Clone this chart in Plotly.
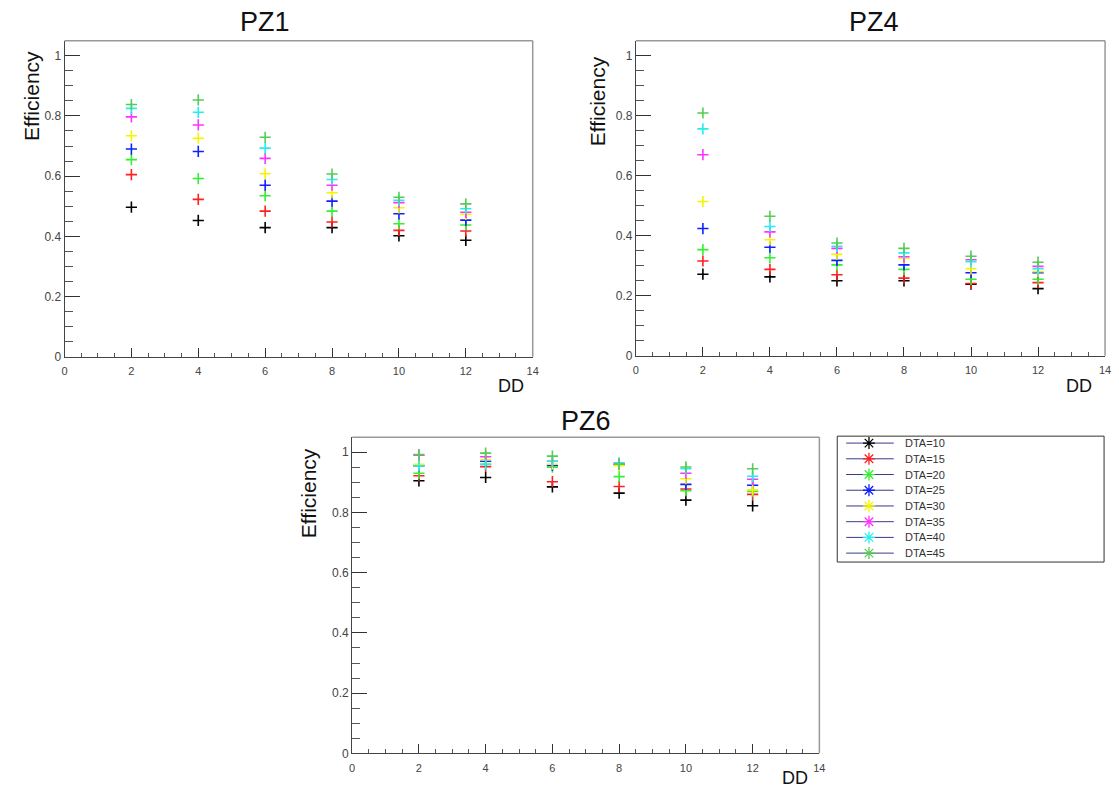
import plotly.graph_objects as go

# Drift distance (DD) values, shared by all panels
dd = [2, 4, 6, 8, 10, 12]

# Series names and ROOT-style colours (kBlack, kRed, kGreen, kBlue, kYellow, kMagenta, kCyan, 8)
dta_labels = ["DTA=10", "DTA=15", "DTA=20", "DTA=25", "DTA=30", "DTA=35", "DTA=40", "DTA=45"]
dta_colors = ["#000000", "#ff2020", "#33ee33", "#1020ff", "#f5f500", "#ff33ff", "#22f0f0", "#55cc55"]

# Efficiency per DTA (rows) at each DD (columns)
pz1_eff = [
    [0.497, 0.453, 0.429, 0.429, 0.402, 0.387],
    [0.605, 0.523, 0.484, 0.448, 0.420, 0.418],
    [0.655, 0.592, 0.535, 0.484, 0.442, 0.438],
    [0.690, 0.682, 0.570, 0.517, 0.475, 0.454],
    [0.734, 0.726, 0.608, 0.545, 0.495, 0.473],
    [0.797, 0.770, 0.659, 0.570, 0.512, 0.480],
    [0.825, 0.812, 0.693, 0.589, 0.520, 0.492],
    [0.838, 0.853, 0.729, 0.607, 0.530, 0.508],
]
pz4_eff = [
    [0.272, 0.263, 0.250, 0.250, 0.239, 0.224],
    [0.316, 0.288, 0.270, 0.259, 0.241, 0.244],
    [0.354, 0.327, 0.303, 0.288, 0.255, 0.255],
    [0.424, 0.362, 0.318, 0.303, 0.277, 0.277],
    [0.514, 0.387, 0.338, 0.325, 0.290, 0.280],
    [0.670, 0.413, 0.358, 0.330, 0.320, 0.298],
    [0.756, 0.431, 0.365, 0.343, 0.314, 0.290],
    [0.809, 0.465, 0.376, 0.358, 0.332, 0.312],
]
pz6_eff = [
    [0.905, 0.916, 0.885, 0.864, 0.841, 0.822],
    [0.922, 0.952, 0.902, 0.886, 0.878, 0.860],
    [0.930, 0.960, 0.950, 0.919, 0.872, 0.870],
    [0.955, 0.970, 0.956, 0.959, 0.893, 0.890],
    [0.960, 0.975, 0.960, 0.955, 0.912, 0.875],
    [0.990, 0.985, 0.970, 0.962, 0.930, 0.910],
    [0.955, 0.960, 0.970, 0.965, 0.945, 0.920],
    [0.992, 0.997, 0.987, 0.960, 0.951, 0.945],
]

panel_titles = ["PZ1", "PZ4", "PZ6"]

W, H = 1119, 800


def px_x(p):
    return p / W


def px_y(p):
    return 1 - p / H


# Pad frames in pixels: (left, right, top, bottom)
frames = [(62, 534, 41, 360), (638, 1111, 41, 359), (352, 823, 441, 760)]
title_pos = [(264, 22), (878, 22), (588, 425)]
ytitle_pos = [(28, 97), (599, 102), (308, 498)]
xtitle_pos = [(512, 389), (1085, 389), (798, 785)]

# Legend box in pixels: (left, right, top, bottom)
leg_l, leg_r, leg_t, leg_b = 841, 1110, 440, 567

fig = go.Figure()
font_family = "Liberation Sans, Arial, sans-serif"

for k, eff in enumerate([pz1_eff, pz4_eff, pz6_eff]):
    xa = "x" if k == 0 else f"x{k + 1}"
    ya = "y" if k == 0 else f"y{k + 1}"
    for i, row in enumerate(eff):
        fig.add_trace(go.Scatter(
            x=dd, y=row, mode="markers", xaxis=xa, yaxis=ya,
            marker=dict(symbol="cross-thin", size=8, color=dta_colors[i],
                        line=dict(color=dta_colors[i], width=1.6)),
            showlegend=False, hoverinfo="x+y", name=dta_labels[i],
        ))

# Legend drawn on its own hidden axes spanning the legend box (pixel units)
n = len(dta_labels)
row_y = [447 + i * (558 - 447) / (n - 1) for i in range(n)]
for i, lab in enumerate(dta_labels):
    fig.add_trace(go.Scatter(
        x=[850, 898], y=[row_y[i], row_y[i]], mode="lines", xaxis="x4", yaxis="y4",
        line=dict(color="#3a3a8a", width=1), showlegend=False, hoverinfo="skip",
    ))
    fig.add_trace(go.Scatter(
        x=[873], y=[row_y[i]], mode="markers", xaxis="x4", yaxis="y4",
        marker=dict(symbol="asterisk-open", size=10, color=dta_colors[i],
                    line=dict(color=dta_colors[i], width=1.3)),
        showlegend=False, name=lab, hoverinfo="name",
    ))

axis_font = dict(family=font_family, size=11, color="#444")
layout = dict(
    width=W, height=H, margin=dict(l=0, r=0, t=0, b=0),
    paper_bgcolor="white", plot_bgcolor="white",
    showlegend=False,
)
shapes = []
annotations = []
for k, (l, r, t, b) in enumerate(frames):
    sfx = "" if k == 0 else str(k + 1)
    layout["xaxis" + sfx] = dict(
        domain=[px_x(l), px_x(r)], range=[0, 14], anchor="y" + sfx,
        dtick=2, tick0=0, ticks="inside", ticklen=9, tickwidth=1, tickcolor="#333",
        minor=dict(ticks="inside", dtick=0.5, ticklen=4, tickcolor="#555", tickwidth=1),
        showline=True, linecolor="#444", linewidth=1, showgrid=False, zeroline=False,
        tickfont=axis_font, ticklabelstandoff=4,
    )
    layout["yaxis" + sfx] = dict(
        domain=[px_y(b), px_y(t)], range=[0, 1.05], anchor="x" + sfx,
        dtick=0.2, tick0=0, ticks="inside", ticklen=15, tickwidth=1, tickcolor="#333",
        minor=dict(ticks="inside", dtick=0.05, ticklen=8, tickcolor="#555", tickwidth=1),
        showline=True, linecolor="#444", linewidth=1, showgrid=False, zeroline=False,
        tickfont=dict(family=font_family, size=12, color="#444"),
    )
    # top and right frame edges
    shapes.append(dict(type="line", xref="paper", yref="paper",
                       x0=px_x(l), x1=px_x(r), y0=px_y(t), y1=px_y(t),
                       line=dict(color="#999", width=1.5)))
    shapes.append(dict(type="line", xref="paper", yref="paper",
                       x0=px_x(r), x1=px_x(r), y0=px_y(t), y1=px_y(b),
                       line=dict(color="#999", width=1.5)))
    tx, ty = title_pos[k]
    annotations.append(dict(text=panel_titles[k], x=px_x(tx), y=px_y(ty), xref="paper", yref="paper",
                            showarrow=False, xanchor="center", yanchor="middle",
                            font=dict(family=font_family, size=27, color="#111")))
    yx, yy = ytitle_pos[k]
    annotations.append(dict(text="Efficiency", x=px_x(yx), y=px_y(yy), xref="paper", yref="paper",
                            showarrow=False, xanchor="center", yanchor="middle", textangle=-90,
                            font=dict(family=font_family, size=21, color="#111")))
    xx, xy = xtitle_pos[k]
    annotations.append(dict(text="DD", x=px_x(xx), y=px_y(xy), xref="paper", yref="paper",
                            showarrow=False, xanchor="center", yanchor="middle",
                            font=dict(family=font_family, size=18, color="#111")))

# Hidden axes for the legend, in pixel coordinates of the page
layout["xaxis4"] = dict(domain=[px_x(leg_l), px_x(leg_r)], range=[leg_l, leg_r], anchor="y4",
                        visible=False, fixedrange=True)
layout["yaxis4"] = dict(domain=[px_y(leg_b), px_y(leg_t)], range=[leg_b, leg_t], anchor="x4",
                        visible=False, fixedrange=True)
shapes.append(dict(type="rect", xref="paper", yref="paper",
                   x0=px_x(leg_l), x1=px_x(leg_r), y0=px_y(leg_b), y1=px_y(leg_t),
                   line=dict(color="#333", width=1), fillcolor="rgba(0,0,0,0)"))
for i, lab in enumerate(dta_labels):
    annotations.append(dict(text=lab, x=907, y=row_y[i], xref="x4", yref="y4",
                            showarrow=False, xanchor="left", yanchor="middle",
                            font=dict(family=font_family, size=11, color="#333")))

layout["shapes"] = shapes
layout["annotations"] = annotations
fig.update_layout(**layout)

fig.write_html("out.html")
